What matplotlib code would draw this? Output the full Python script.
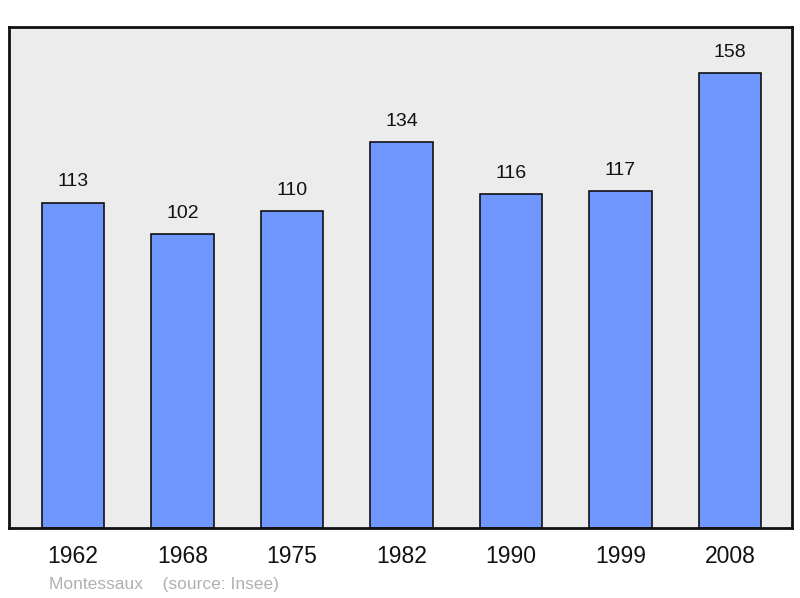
import matplotlib
matplotlib.use("Agg")
import matplotlib.pyplot as plt

years = ["1962", "1968", "1975", "1982", "1990", "1999", "2008"]
population = [113, 102, 110, 134, 116, 117, 158]
place = "Montessaux"
source = "(source: Insee)"

plt.rcParams['font.family'] = ['Liberation Sans', 'DejaVu Sans']

W, H = 800, 598
fig = plt.figure(figsize=(W/100, H/100), dpi=100)
ax = fig.add_axes([9/W, (H-528)/H, 783/W, 501/H])
ax.set_facecolor('#ececec')
x = list(range(len(years)))
ax.bar(x, population, width=0.57, color='#7097ff', edgecolor='#111111', linewidth=1.2, zorder=2)
for xi, v in zip(x, population):
    ax.text(xi, v + 4.3, str(v), ha='center', va='bottom', fontsize=14, color='#111111')
ax.set_xlim(-0.584, 6.566)
ax.set_ylim(0, 174)
ax.set_yticks([])
ax.set_xticks([])
for s in ax.spines.values():
    s.set_linewidth(2)
    s.set_color('#111111')
for xi, y in zip(x, years):
    ax.text(xi, -10, y, ha='center', va='center', fontsize=16.5, color='#111111',
            transform=ax.transData, clip_on=False)
fig.text(49/W, 1 - 584/H, place + "    " + source, ha='left', va='center', fontsize=12.5, color='#b0b0b0')
fig.savefig("out.png", dpi=100)
